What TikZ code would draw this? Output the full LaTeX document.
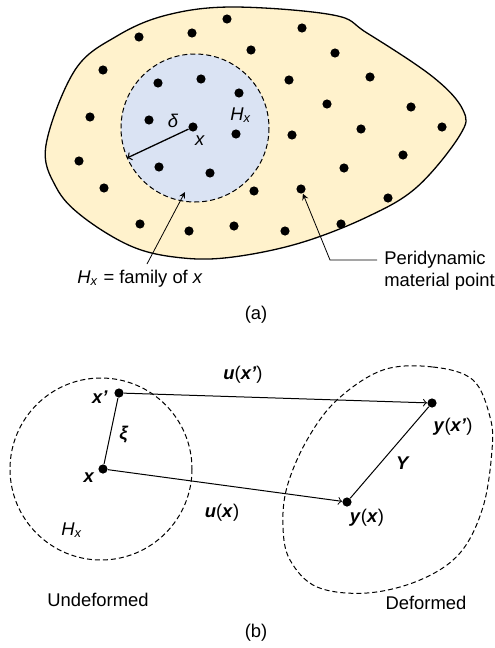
\documentclass[tikz,border=0pt]{standalone}
\usepackage{fontspec}
\setmainfont{Liberation Sans}
\usetikzlibrary{calc}
\definecolor{bodyfill}{HTML}{FFF2CC}
\definecolor{familyfill}{HTML}{DAE3F3}
\newcommand{\bi}[1]{\textbf{\textit{#1}}}
\newcommand{\Hx}{\textit{H}\textsubscript{\textit{x}}}

\tikzset{
  dot/.style={circle,fill=black,inner sep=0pt,minimum size=4.6pt},
  horizon/.style={dash pattern=on 2.5pt off 1.5pt,line width=0.5pt},
  lbl/.style={font=\fontsize{9.2}{11}\selectfont,inner sep=1pt},
}

\begin{document}
\begin{tikzpicture}[x=0.5pt,y=-0.5pt,>=to]
\useasboundingbox (0,0) rectangle (494,648);
% (a) body with material points
\draw[fill=bodyfill,line width=0.65pt] plot[smooth cycle,tension=0.6] coordinates {
  (46,145) (75,70) (117,36) (167,15) (233,7) (333,15) (367,33) (433,77)
  (463,110) (460,135) (417,187) (367,217) (300,243) (233,257) (183,258)
  (133,247) (83,217) (56,187)};
\draw[horizon,fill=familyfill] (195,128) circle[radius=74];
\foreach \px/\py [count=\i] in {227/19,302/28,139/37,192/33,251/50,335/53,103/70,
  158/83,201/79,289/80,370/77,239/93,327/104,411/107,90/117,149/120,236/134,
  292/135,361/129,442/127,79/161,159/167,210/173,403/155,344/168,104/188,
  254/191,388/198,140/224,189/231,234/226,285/231,341/224}
  \node[dot] (d\i) at (\px,\py) {};
\node[dot] (x) at (193,127) {};
\node[dot] (pmd) at (301,189) {};
\coordinate (rim) at (127,158);
\draw[->,line width=0.65pt] (x) -- (rim);
\node[lbl] (delta) at (173,121) {\textit{δ}};
\node[lbl] (xlbl) at (200,141) {\textit{x}};
\node[lbl] (hx) at (241,115) {\Hx};
% leaders
\node[lbl] (fam) at (140,279) {\Hx{} = family of \textit{x}};
\coordinate (famtip) at (185,192);
\coordinate (famtail) at (147,264);
\draw[-stealth,line width=0.4pt] (famtail) -- (famtip);
\node[lbl,anchor=west,align=left] (pmp) at (382,271) {Peridynamic\\material point};
\coordinate (lead) at (377,260);
\draw[-stealth,line width=0.4pt] (lead) -- (330,260) -- (pmd);
\node[lbl] (capa) at (256,315) {(a)};

% (b) undeformed and deformed configurations
\draw[horizon] (101,469) circle[radius=91];
\draw[horizon] plot[smooth cycle,tension=0.6] coordinates {
  (383,370) (433,367) (473,380) (490,417) (492,450) (483,507) (460,553)
  (420,580) (367,593) (317,587) (290,560) (283,527) (287,487) (307,440)
  (337,400)};
\node[dot] (xp) at (119,393) {};
\node[dot] (xx) at (103,469) {};
\node[dot] (yx) at (347,502) {};
\node[dot] (yxp) at (432,403) {};
\draw[line width=0.5pt] (xx) -- (xp);
\draw[->,line width=0.5pt] (xp) -- (yxp);
\draw[->,line width=0.5pt] (xx) -- (yx);
\draw[line width=0.5pt] (yx) -- (yxp);
\node[lbl] (xplbl) at (100,397) {\bi{x'}};
\node[lbl] (xxlbl) at (89,478) {\bi{x}};
\node[lbl] (xi) at (124,435) {\bi{ξ}};
\node[lbl] (uxp) at (243,375) {\bi{u}(\bi{x'})};
\node[lbl] (ux) at (222,513) {\bi{u}(\bi{x})};
\node[lbl] (yxlbl) at (367,518) {\bi{y}(\bi{x})};
\node[lbl] (yxplbl) at (453,427) {\bi{y}(\bi{x'})};
\node[lbl] (bigy) at (403,463) {\bi{Y}};
\node[lbl] (hxb) at (72,530) {\Hx};
\node[lbl] (undef) at (98,600) {Undeformed};
\node[lbl] (def) at (426,603) {Deformed};
\node[lbl] (capb) at (256,633) {(b)};
\end{tikzpicture}
\end{document}
